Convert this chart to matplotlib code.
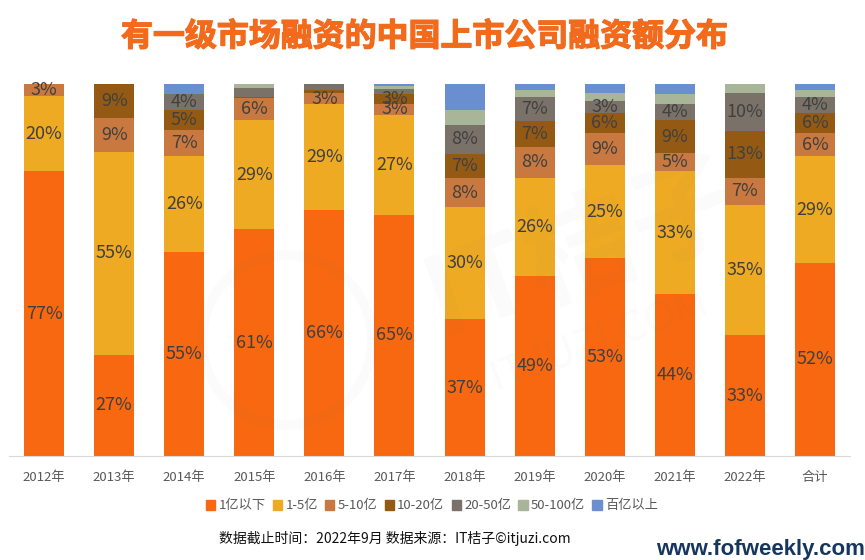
import matplotlib
matplotlib.use('Agg')
import matplotlib.pyplot as plt
import matplotlib.patheffects as pe
from matplotlib.patches import Patch, Circle
from matplotlib.transforms import IdentityTransform

plt.rcParams['font.family'] = ['Noto Sans CJK SC', 'DejaVu Sans']

# Categories and series (share in %)
years = ['2012年', '2013年', '2014年', '2015年', '2016年', '2017年', '2018年',
         '2019年', '2020年', '2021年', '2022年', '合计']
names = ['1亿以下', '1-5亿', '5-10亿', '10-20亿', '20-50亿', '50-100亿', '百亿以上']
colors = ['#f76810', '#eeaa22', '#c9793f', '#945a14', '#7a7268', '#a8b598', '#6a8fd0']

under_1 = [76.6, 27.2, 54.8, 61.0, 66.1, 64.8, 36.8, 48.4, 53.2, 43.5, 32.5, 51.9]
b1_5 = [20.1, 54.6, 25.8, 29.2, 28.5, 26.9, 30.2, 26.4, 24.9, 33.1, 35.1, 28.7]
b5_10 = [3.3, 9.1, 7.0, 6.1, 3.0, 2.9, 7.6, 8.2, 8.6, 4.9, 7.2, 6.1]
b10_20 = [0, 9.1, 5.4, 0.2, 0.7, 2.7, 6.7, 7.1, 5.6, 8.7, 12.5, 5.6]
b20_50 = [0, 0, 4.2, 2.5, 1.7, 1.3, 7.6, 6.5, 3.2, 4.4, 10.3, 4.3]
b50_100 = [0, 0, 0, 1.0, 0, 0.9, 4.0, 1.7, 2.2, 2.8, 2.4, 1.8]
over_100 = [0, 0, 2.8, 0, 0, 0.5, 7.1, 1.7, 2.3, 2.6, 0, 1.6]

# Printed labels, None where the chart shows nothing
lab_under_1 = [77, 27, 55, 61, 66, 65, 37, 49, 53, 44, 33, 52]
lab_1_5 = [20, 55, 26, 29, 29, 27, 30, 26, 25, 33, 35, 29]
lab_5_10 = [3, 9, 7, 6, 3, 3, 8, 8, 9, 5, 7, 6]
lab_10_20 = [None, 9, 5, None, None, 3, 7, 7, 6, 9, 13, 6]
lab_20_50 = [None, None, 4, None, None, None, 8, 7, 3, 4, 10, 4]

series = [under_1, b1_5, b5_10, b10_20, b20_50, b50_100, over_100]
labels = [lab_under_1, lab_1_5, lab_5_10, lab_10_20, lab_20_50, None, None]

fig = plt.figure(figsize=(8.65, 5.6), dpi=100)
ax = fig.add_axes([9 / 865, 1 - 456 / 560, 841 / 865, 372 / 560])

x = list(range(len(years)))
bottom = [0] * len(years)
for vals, labs, col in zip(series, labels, colors):
    ax.bar(x, vals, width=0.57, bottom=bottom, color=col)
    if labs:
        for i, lab in enumerate(labs):
            if lab is not None:
                ax.text(i, bottom[i] + vals[i] / 2, f'{lab}%', ha='center', va='center',
                        fontsize=13, color='#404040')
    bottom = [b + v for b, v in zip(bottom, vals)]

ax.set_xlim(-0.5, 11.5)
ax.set_ylim(0, 100)
ax.set_xticks(x)
ax.set_xticklabels(years, fontsize=9.5, color='#595959')
ax.tick_params(axis='x', length=0, pad=11)
ax.set_yticks([])
for s in ['top', 'left', 'right']:
    ax.spines[s].set_visible(False)
ax.spines['bottom'].set_color('#d9d9d9')

# Faint watermark over the bars
fig.text(585 / 865, 1 - 250 / 560, 'IT桔子', ha='center', va='center', rotation=20,
         fontsize=80, fontweight='bold', color='#808080', alpha=0.03)
fig.text(600 / 865, 1 - 340 / 560, 'ITJUZI.COM', ha='center', va='center', rotation=20,
         fontsize=30, color='#808080', alpha=0.03)
fig.add_artist(Circle((287, 560 - 340), 85, transform=IdentityTransform(), fill=False,
                      lw=7, ec='#808080', alpha=0.03))

title = fig.text(425 / 865, 1 - 37 / 560, '有一级市场融资的中国上市公司融资额分布', ha='center', va='center',
                 fontsize=23, fontweight='bold', color='#f26a1b')
title.set_path_effects([pe.withStroke(linewidth=0.9, foreground='#f26a1b')])

handles = [Patch(color=c, label=n) for c, n in zip(colors, names)]
fig.legend(handles=handles, loc='center', bbox_to_anchor=(432 / 865, 1 - 506 / 560), ncol=7,
           frameon=False, fontsize=9.5, labelcolor='#595959', handlelength=0.7, handleheight=0.7,
           handletextpad=0.25, columnspacing=0.55)

fig.text(395 / 865, 1 - 538 / 560, '数据截止时间：2022年9月 数据来源：IT桔子©itjuzi.com', ha='center', va='center',
         fontsize=10, color='#111111')
fig.text(865 / 865, 1 - 549 / 560, 'www.fofweekly.com', ha='right', va='center',
         fontsize=16, fontweight='bold', color='#17365d', family=['Liberation Sans', 'DejaVu Sans'])

fig.savefig('out.png', dpi=100)
